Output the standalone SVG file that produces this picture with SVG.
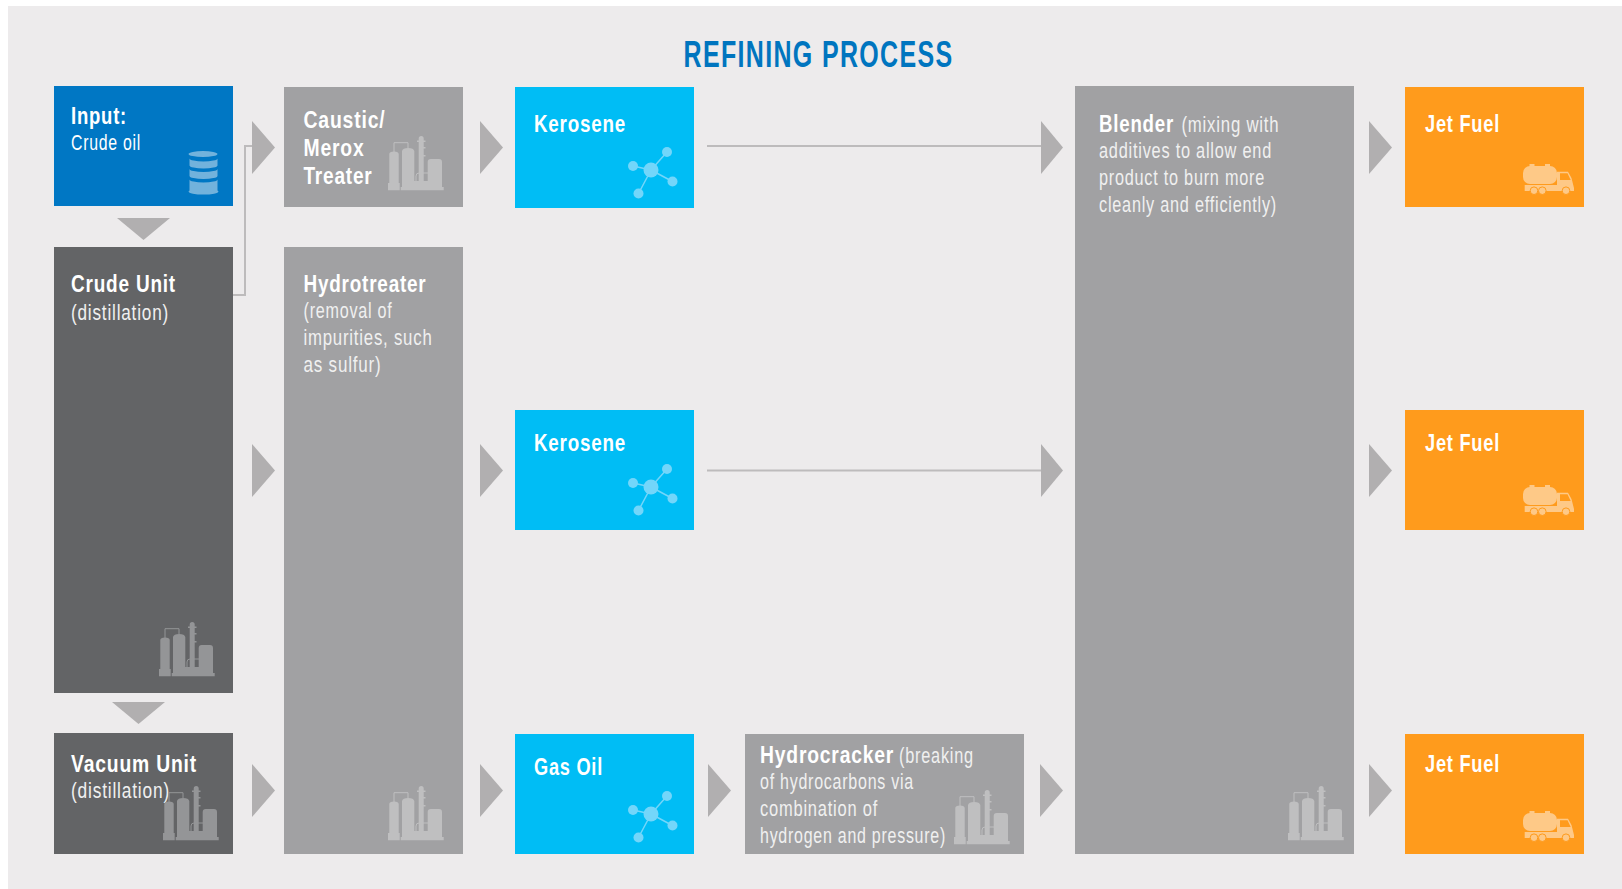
<svg xmlns="http://www.w3.org/2000/svg" width="1622" height="889" viewBox="0 0 1622 889">
<style>
text{font-family:"Liberation Sans",Arial,sans-serif;fill:#fff;font-size:22px}
.b{font-weight:700;font-size:24px;letter-spacing:1px}
.l{fill:#f0f0f0;font-size:21.5px;letter-spacing:1px}
.w{fill:#fff}
.blue{fill:#0077c4}.dark{fill:#636466}.grey{fill:#a1a1a3}.cyan{fill:#00bdf5}.org{fill:#ff9b1c}
.ar{fill:#b1afb0}
.ln{fill:none;stroke:#bdbbbc;stroke-width:2}
.i1{color:#949597}.i2{color:#bfbfc0}.mol{color:#73d6fa}.trk{color:#fec987}
</style>
<defs>
<g id="plant">
<path fill="currentColor" d="M1.3 47V18a4.7 2.5 0 0 1 9.4 0V47H11.7V54.3H0V47Z"/>
<path fill="currentColor" d="M14 51V15a6.2 3.5 0 0 1 12.3 0V45H30.7V6H29V4.500H30.700V2.500a2.500 2.500 0 0 1 5 0V4.500H37.500V6H35.700V11H37.500V12.500H35.700V19H37.500V20.500H35.700V45H39.700V26a3 3 0 0 1 3-3H51a3 3 0 0 1 3 3V51H55.700V54.300H12.700V51Z"/>
<path fill="none" stroke="currentColor" stroke-width="1" d="M6 16V6.700H20V12M28 45V40a3 3 0 0 1 3-3H40"/>
</g>
<g id="mol" fill="currentColor">
<path stroke="currentColor" stroke-width="1.500" d="M0 0L16 -18M0 0L-18 -4M0 0L21.500 11.500M0 0L-12.500 23.500"/>
<circle r="7.500"/><circle cx="16" cy="-18" r="5"/><circle cx="-18" cy="-4" r="5"/><circle cx="21.500" cy="11.500" r="5"/><circle cx="-12.500" cy="23.500" r="5"/>
</g>
<g id="truck" fill="currentColor">
<rect x="7.500" y="0" width="5" height="3"/><rect x="23" y="0" width="5" height="3"/>
<rect x="1" y="2" width="34" height="18" rx="7"/>
<path fill-rule="evenodd" d="M2.700 21H35V7.700H46L49.500 14L52 24V27H2.700V24ZM38 9.300V16H48.700L45.500 9.300Z"/>
<g stroke="#ff9b1c" stroke-width="1"><circle cx="12" cy="26.700" r="3.800"/><circle cx="20.300" cy="26.700" r="3.800"/><circle cx="44" cy="26.700" r="3.800"/></g>
</g>
</defs>
<rect width="1622" height="889" fill="#fff"/>
<rect x="8" y="6" width="1614" height="883" fill="#edebec"/>
<text id="title" x="683.500" y="67" style="font-size:37px;font-weight:700;fill:#0075bf;letter-spacing:2px" textLength="270" lengthAdjust="spacingAndGlyphs">REFINING PROCESS</text>
<g id="connectors">
<path class="ln" d="M232 295H245V146H252"/>
<path class="ln" d="M707 146H1041"/>
<path class="ln" d="M707 470.500H1041"/>
<path class="ar" d="M117 218H170L143.500 240Z"/>
<path class="ar" d="M112 702H165L138.500 724Z"/>
<path class="ar" d="M252 121L275 147.500L252 174Z"/>
<path class="ar" d="M252 444L275 470.500L252 497Z"/>
<path class="ar" d="M252 764L275 790.500L252 817Z"/>
<path class="ar" d="M480 121L503 147.500L480 174Z"/>
<path class="ar" d="M480 444L503 470.500L480 497Z"/>
<path class="ar" d="M480 764L503 790.500L480 817Z"/>
<path class="ar" d="M708 764L731 790.500L708 817Z"/>
<path class="ar" d="M1041 121L1063 147.500L1041 174Z"/>
<path class="ar" d="M1041 444L1063 470.500L1041 497Z"/>
<path class="ar" d="M1040 764L1063 790.500L1040 817Z"/>
<path class="ar" d="M1369 121L1392 147.500L1369 174Z"/>
<path class="ar" d="M1369 444L1392 470.500L1369 497Z"/>
<path class="ar" d="M1369 764L1392 790.500L1369 817Z"/>
</g>
<g id="input"><rect class="blue" x="54" y="86" width="179" height="120"/>
<text class="b" x="71" y="124" textLength="56" lengthAdjust="spacingAndGlyphs">Input:</text><text class="l w" x="71" y="150" textLength="70" lengthAdjust="spacingAndGlyphs">Crude oil</text>
<path fill="#72b2dc" d="M188.500 154a14.500 3 0 0 1 29 0a14.500 3 0 0 1-29 0ZM189.500 158.500a14 3 0 0 0 28 0V165.500a14 3 0 0 1-28 0ZM189.500 169a14 3 0 0 0 28 0V176a14 3 0 0 1-28 0ZM189.500 179.500a14 3 0 0 0 28 0V190.500l1 1a14.500 3 0 0 1-30 0l1-1Z"/>
</g>
<g id="crude"><rect class="dark" x="54" y="247" width="179" height="446"/>
<text class="b" x="71" y="292" textLength="105" lengthAdjust="spacingAndGlyphs">Crude Unit</text><text class="l" x="71" y="320" textLength="98" lengthAdjust="spacingAndGlyphs">(distillation)</text>
<use href="#plant" x="159" y="622" class="i1"/></g>
<g id="vacuum"><rect class="dark" x="54" y="733" width="179" height="121"/>
<text class="b" x="71" y="772" textLength="126" lengthAdjust="spacingAndGlyphs">Vacuum Unit</text><text class="l" x="71" y="798" textLength="99" lengthAdjust="spacingAndGlyphs">(distillation)</text>
<use href="#plant" x="163" y="786" class="i1"/></g>
<g id="caustic"><rect class="grey" x="284" y="87" width="179" height="120"/>
<text class="b" x="303.500" y="127.500" textLength="82" lengthAdjust="spacingAndGlyphs">Caustic/</text><text class="b" x="303.500" y="156" textLength="61" lengthAdjust="spacingAndGlyphs">Merox</text><text class="b" x="303.500" y="184" textLength="69" lengthAdjust="spacingAndGlyphs">Treater</text>
<use href="#plant" x="388" y="136" class="i2"/></g>
<g id="hydrotreater"><rect class="grey" x="284" y="247" width="179" height="607"/>
<text class="b" x="303.500" y="292" textLength="123" lengthAdjust="spacingAndGlyphs">Hydrotreater</text><text class="l" x="303.500" y="318" textLength="89" lengthAdjust="spacingAndGlyphs">(removal of</text><text class="l" x="303.500" y="345" textLength="129" lengthAdjust="spacingAndGlyphs">impurities, such</text><text class="l" x="303.500" y="372" textLength="78" lengthAdjust="spacingAndGlyphs">as sulfur)</text>
<use href="#plant" x="388" y="786" class="i2"/></g>
<g id="kerosene1"><rect class="cyan" x="515" y="87" width="179" height="121"/>
<text class="b" x="534" y="132" textLength="92" lengthAdjust="spacingAndGlyphs">Kerosene</text><use href="#mol" x="651" y="170" class="mol"/></g>
<g id="kerosene2"><rect class="cyan" x="515" y="410" width="179" height="120"/>
<text class="b" x="534" y="451" textLength="92" lengthAdjust="spacingAndGlyphs">Kerosene</text><use href="#mol" x="651" y="487" class="mol"/></g>
<g id="gasoil"><rect class="cyan" x="515" y="734" width="179" height="120"/>
<text class="b" x="534" y="775" textLength="69" lengthAdjust="spacingAndGlyphs">Gas Oil</text><use href="#mol" x="651" y="814" class="mol"/></g>
<g id="hydrocracker"><rect class="grey" x="745" y="734" width="279" height="120"/>
<text class="b" transform="translate(760 763) scale(.805 1)">Hydrocracker</text><text class="l" transform="translate(899 763) scale(.76 1)">(breaking</text>
<text class="l" x="760" y="789" textLength="154" lengthAdjust="spacingAndGlyphs">of hydrocarbons via</text><text class="l" x="760" y="816" textLength="118" lengthAdjust="spacingAndGlyphs">combination of</text><text class="l" x="760" y="843" textLength="186" lengthAdjust="spacingAndGlyphs">hydrogen and pressure)</text>
<use href="#plant" x="954" y="790" class="i2"/></g>
<g id="blender"><rect class="grey" x="1075" y="86" width="279" height="768"/>
<text class="b" transform="translate(1099 132) scale(.778 1)">Blender</text><text class="l" transform="translate(1181.500 132) scale(.781 1)">(mixing with</text>
<text class="l" x="1099" y="158" textLength="173" lengthAdjust="spacingAndGlyphs">additives to allow end</text><text class="l" x="1099" y="185" textLength="166" lengthAdjust="spacingAndGlyphs">product to burn more</text><text class="l" x="1099" y="212" textLength="178" lengthAdjust="spacingAndGlyphs">cleanly and efficiently)</text>
<use href="#plant" x="1288" y="786" class="i2"/></g>
<g id="jet1"><rect class="org" x="1405" y="87" width="179" height="120"/>
<text class="b" x="1425" y="132" textLength="75" lengthAdjust="spacingAndGlyphs">Jet Fuel</text><use href="#truck" x="1522" y="164" class="trk"/></g>
<g id="jet2"><rect class="org" x="1405" y="410" width="179" height="120"/>
<text class="b" x="1425" y="451" textLength="75" lengthAdjust="spacingAndGlyphs">Jet Fuel</text><use href="#truck" x="1522" y="485" class="trk"/></g>
<g id="jet3"><rect class="org" x="1405" y="734" width="179" height="120"/>
<text class="b" x="1425" y="772" textLength="75" lengthAdjust="spacingAndGlyphs">Jet Fuel</text><use href="#truck" x="1522" y="811" class="trk"/></g>
</svg>
